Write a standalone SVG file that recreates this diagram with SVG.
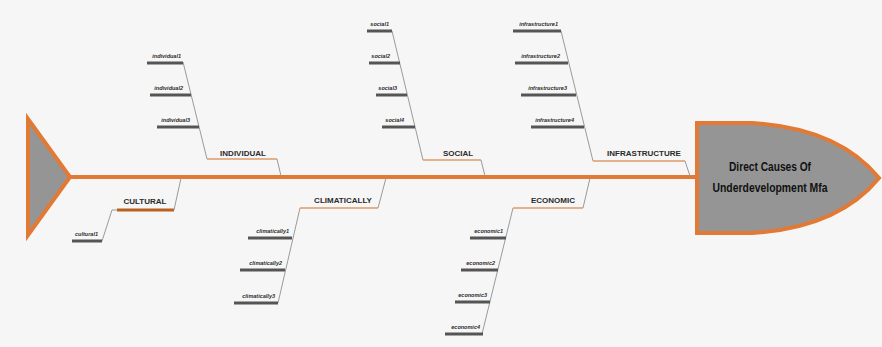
<svg xmlns="http://www.w3.org/2000/svg" width="882" height="347" viewBox="0 0 882 347">
  <style>
    .bg { fill: #f6f6f6; }
    .spine { stroke: #e27a35; stroke-width: 4; fill: none; }
    .fish { fill: #959595; stroke: #e27a35; stroke-width: 4; stroke-linejoin: miter; }
    .link { stroke: #9a9a9a; stroke-width: 1; fill: none; }
    .under { stroke: #dc9a68; stroke-width: 1.6; fill: none; }
    .under-bold { stroke: #b9621f; stroke-width: 3.2; fill: none; }
    .bar { stroke: #555; stroke-width: 3; fill: none; }
    .cat { font-family: "Liberation Sans", Arial, sans-serif; font-size: 8px; font-weight: bold; fill: #2a2a2a; text-anchor: middle; }
    .sub { font-family: "Liberation Sans", Arial, sans-serif; font-size: 5.5px; font-style: italic; font-weight: bold; fill: #2a2a2a; text-anchor: end; }
    .head { font-family: "Liberation Sans", Arial, sans-serif; font-size: 12px; font-weight: bold; fill: #111; text-anchor: middle; }
  </style>

  <rect class="bg" x="0" y="0" width="882" height="347"/>

  <!-- tail -->
  <g id="tail">
    <polygon class="fish" points="28,119 70,177 28,235"/>
  </g>

  <!-- connectors: spine and branch links -->
  <g id="connectors">
    <line class="spine" x1="70" y1="177" x2="698" y2="177"/>

    <!-- INDIVIDUAL -->
    <polyline class="link" points="183,62 207,159"/>
    <line class="under" x1="207" y1="159" x2="277" y2="159"/>
    <line class="link" x1="277" y1="159" x2="281" y2="176"/>

    <!-- SOCIAL -->
    <polyline class="link" points="392,31 423,160"/>
    <line class="under" x1="423" y1="160" x2="481" y2="160"/>
    <line class="link" x1="481" y1="160" x2="485" y2="176"/>

    <!-- INFRASTRUCTURE -->
    <polyline class="link" points="561,31 593,161"/>
    <line class="under" x1="593" y1="161" x2="685" y2="161"/>
    <line class="link" x1="685" y1="161" x2="690" y2="176"/>

    <!-- CULTURAL -->
    <polyline class="link" points="102,241 112,210 117,210"/>
    <line class="under-bold" x1="117" y1="210" x2="174" y2="210"/>
    <line class="link" x1="174" y1="210" x2="181" y2="178"/>

    <!-- CLIMATICALLY -->
    <polyline class="link" points="278,303 300,208"/>
    <line class="under" x1="300" y1="208" x2="378" y2="208"/>
    <line class="link" x1="378" y1="208" x2="386" y2="178"/>

    <!-- ECONOMIC -->
    <polyline class="link" points="482,334 513,208"/>
    <line class="under" x1="513" y1="208" x2="583" y2="208"/>
    <line class="link" x1="583" y1="208" x2="590" y2="178"/>
  </g>

  <!-- head -->
  <g id="head">
    <path class="fish" d="M697,123 L752,123 Q838,128 879,178 Q838,228 752,233 L697,233 Z"/>
    <text class="head" x="770" y="171" textLength="82" lengthAdjust="spacingAndGlyphs">Direct Causes Of</text>
    <text class="head" x="770" y="192" textLength="115" lengthAdjust="spacingAndGlyphs">Underdevelopment Mfa</text>
  </g>

  <!-- category: INDIVIDUAL -->
  <g id="individual">
    <text class="cat" x="243" y="156">INDIVIDUAL</text>
    <line class="bar" x1="147" y1="63" x2="183" y2="63"/>
    <text class="sub" x="181" y="58">individual1</text>
    <line class="bar" x1="150" y1="95" x2="191" y2="95"/>
    <text class="sub" x="183" y="90">individual2</text>
    <line class="bar" x1="157" y1="127" x2="199" y2="127"/>
    <text class="sub" x="190" y="122">individual3</text>
  </g>

  <!-- category: SOCIAL -->
  <g id="social">
    <text class="cat" x="458" y="156">SOCIAL</text>
    <line class="bar" x1="367" y1="31" x2="392" y2="31"/>
    <text class="sub" x="389" y="26">social1</text>
    <line class="bar" x1="369" y1="63" x2="400" y2="63"/>
    <text class="sub" x="390" y="58">social2</text>
    <line class="bar" x1="376" y1="95" x2="407" y2="95"/>
    <text class="sub" x="397" y="90">social3</text>
    <line class="bar" x1="382" y1="127" x2="415" y2="127"/>
    <text class="sub" x="404" y="122">social4</text>
  </g>

  <!-- category: INFRASTRUCTURE -->
  <g id="infrastructure">
    <text class="cat" x="644" y="156">INFRASTRUCTURE</text>
    <line class="bar" x1="513" y1="31" x2="561" y2="31"/>
    <text class="sub" x="558" y="26">infrastructure1</text>
    <line class="bar" x1="515" y1="63" x2="568" y2="63"/>
    <text class="sub" x="560" y="58">infrastructure2</text>
    <line class="bar" x1="521" y1="95" x2="576" y2="95"/>
    <text class="sub" x="567" y="90">infrastructure3</text>
    <line class="bar" x1="531" y1="127" x2="584" y2="127"/>
    <text class="sub" x="574" y="122">infrastructure4</text>
  </g>

  <!-- category: CULTURAL -->
  <g id="cultural">
    <text class="cat" x="145" y="204">CULTURAL</text>
    <line class="bar" x1="72" y1="241" x2="102" y2="241"/>
    <text class="sub" x="98" y="236">cultural1</text>
  </g>

  <!-- category: CLIMATICALLY -->
  <g id="climatically">
    <text class="cat" x="343" y="203">CLIMATICALLY</text>
    <line class="bar" x1="248" y1="238" x2="292" y2="238"/>
    <text class="sub" x="289" y="233">climatically1</text>
    <line class="bar" x1="240" y1="270" x2="285" y2="270"/>
    <text class="sub" x="282" y="265">climatically2</text>
    <line class="bar" x1="234" y1="303" x2="278" y2="303"/>
    <text class="sub" x="275" y="298">climatically3</text>
  </g>

  <!-- category: ECONOMIC -->
  <g id="economic">
    <text class="cat" x="553" y="203">ECONOMIC</text>
    <line class="bar" x1="470" y1="238" x2="506" y2="238"/>
    <text class="sub" x="503" y="233">economic1</text>
    <line class="bar" x1="461" y1="270" x2="498" y2="270"/>
    <text class="sub" x="495" y="265">economic2</text>
    <line class="bar" x1="455" y1="302" x2="490" y2="302"/>
    <text class="sub" x="487" y="297">economic3</text>
    <line class="bar" x1="445" y1="334" x2="483" y2="334"/>
    <text class="sub" x="480" y="329">economic4</text>
  </g>
</svg>
